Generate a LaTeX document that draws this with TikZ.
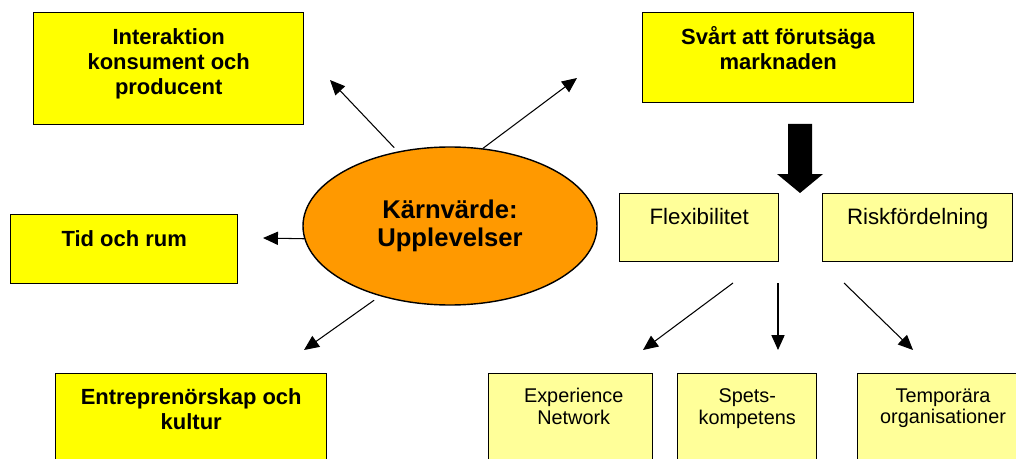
\documentclass[tikz,border=0pt]{standalone}
\usepackage{fontspec}
\setmainfont{Liberation Sans}
\usetikzlibrary{shapes.geometric,arrows.meta}

\definecolor{gul}{HTML}{FFFF00}
\definecolor{ljusgul}{HTML}{FFFF99}
\definecolor{karnfarg}{HTML}{FF9900}
\newcommand{\pix}{0.02cm}

\begin{document}
\begin{tikzpicture}[x=0.02cm,y=-0.02cm,
		ruta/.style={draw,line width=0.8pt,fill=gul,anchor=north west,inner sep=0pt},
		ljusruta/.style={ruta,fill=ljusgul},
		rubrik/.style={anchor=north,align=center,inner sep=0pt,font=\bfseries\fontsize{12.5}{14.2}\selectfont},
		brodtext/.style={anchor=north,align=center,inner sep=0pt,font=\fontsize{12.7}{14.4}\selectfont},
		liten/.style={anchor=north,align=center,inner sep=0pt,font=\fontsize{11.3}{12.5}\selectfont},
		pil/.style={line width=0.6pt,-{Triangle[length=8.5pt,width=7.5pt]}}]
				\useasboundingbox (0,0) rectangle (1016,459);
				\clip (0,0) rectangle (1016,459);

				\node [ruta,minimum width=270*\pix,minimum height=112*\pix] (inter) at (33,12) {};
				\node [rubrik] (intertext) at ([yshift=-16*\pix]inter.north) {Interaktion\\konsument och\\producent};
				\node [ruta,minimum width=271*\pix,minimum height=90*\pix] (svart) at (642,12) {};
				\node [rubrik] (svarttext) at ([yshift=-14*\pix]svart.north) {Svårt att förutsäga\\marknaden};
				\node [ruta,minimum width=227*\pix,minimum height=69*\pix] (tid) at (10,214) {};
				\node [rubrik] (tidtext) at ([yshift=-16*\pix]tid.north) {Tid och rum};
				\node [ruta,minimum width=271*\pix,minimum height=100*\pix] (entre) at (55,373) {};
				\node [rubrik] (entretext) at ([yshift=-15*\pix]entre.north) {Entreprenörskap och\\kultur};

				\node [draw,line width=0.8pt,fill=karnfarg,ellipse,minimum width=294*\pix,minimum height=158*\pix,
					align=center,font=\bfseries\fontsize{14.6}{15.9}\selectfont] (karn) at (450,226) {Kärnvärde:\\Upplevelser};

				\coordinate (pinter) at (330,80);
				\coordinate (psvart) at (577,78);
				\coordinate (ptid) at (263,238);
				\coordinate (pentre) at (304,350);
				\draw [pil,shorten <=3pt] (karn.125)--(pinter);
				\draw [pil] (karn.67)--(psvart);
				\draw [pil] (karn.185)--(ptid);
				\draw [pil,shorten <=4pt] (karn.225)--(pentre);

				\fill (788,124)--(812,124)--(812,174)--(823,174)--(800,193)--(777,174)--(788,174)--cycle;

				\node [ljusruta,minimum width=159*\pix,minimum height=68*\pix] (flex) at (619,193) {};
				\node [brodtext] (flextext) at ([yshift=-15*\pix]flex.north) {Flexibilitet};
				\node [ljusruta,minimum width=190*\pix,minimum height=68*\pix] (risk) at (822,193) {};
				\node [brodtext] (risktext) at ([yshift=-15*\pix]risk.north) {Riskfördelning};

				\coordinate (f1) at (733,283);
				\coordinate (f2) at (778,283);
				\coordinate (f3) at (844,283);
				\coordinate (e1) at (643,350);
				\coordinate (e2) at (778,350);
				\coordinate (e3) at (913,350);
				\draw [pil] (f1)--(e1);
				\draw [pil] (f2)--(e2);
				\draw [pil] (f3)--(e3);

				\node [ljusruta,minimum width=164*\pix,minimum height=100*\pix] (exp) at (488,373) {};
				\node [liten] (exptext) at ([xshift=3*\pix,yshift=-15*\pix]exp.north) {Experience\\Network};
				\node [ljusruta,minimum width=139*\pix,minimum height=100*\pix] (spets) at (677,373) {};
				\node [liten] (spetstext) at ([yshift=-15*\pix]spets.north) {Spets-\\kompetens};
				\node [ljusruta,minimum width=175*\pix,minimum height=100*\pix] (temp) at (857,373) {};
				\node [liten] (temptext) at (943,388) {Temporära\\organisationer};

			\end{tikzpicture}
\end{document}
